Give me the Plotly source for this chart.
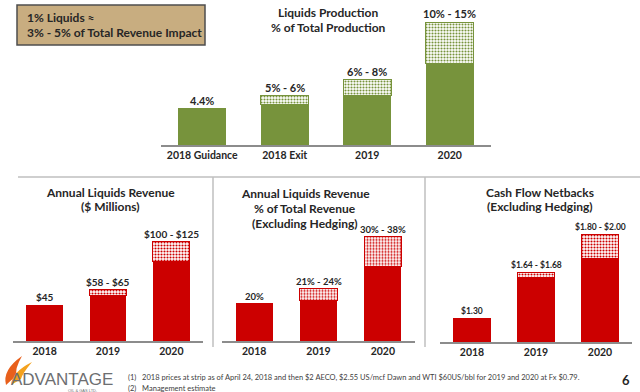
import plotly.graph_objects as go

# ---------------- data ----------------
prod_cats = ["2018 Guidance", "2018 Exit", "2019", "2020"]
prod_low = [4.4, 5, 6, 10]
prod_high = [4.4, 6, 8, 15]
prod_labels = ["4.4%", "5% - 6%", "6% - 8%", "10% - 15%"]

years = ["2018", "2019", "2020"]
rev_low = [45, 58, 100]
rev_high = [45, 65, 125]
rev_labels = ["$45", "$58 - $65", "$100 - $125"]

pct_low = [20, 21, 30]
pct_high = [20, 24, 38]
pct_labels = ["20%", "21% - 24%", "30% - 38%"]

net_low = [1.30, 1.64, 1.80]
net_high = [1.30, 1.68, 2.00]
net_labels = ["$1.30", "$1.64 - $1.68", "$1.80 - $2.00"]

GREEN = "#77933C"
RED = "#CC0000"
TXT = "#262626"
FONT = "Lato"

W, H = 640, 392
def px(x): return x / W
def py(y): return 1 - y / H

fig = go.Figure()

panels = [
    (prod_cats, prod_low, prod_high, prod_labels, GREEN, "x", "y", [161, 491], [145, 14], [0, 16], 11),
    (years, rev_low, rev_high, rev_labels, RED, "x2", "y2", [13, 203], [341, 238], [0, 130], 10),
    (years, pct_low, pct_high, pct_labels, RED, "x3", "y3", [222, 415], [341, 229.4], [10, 40], 9.5),
    (years, net_low, net_high, net_labels, RED, "x4", "y4", [440, 632], [342, 228], [1.1, 2.05], 8.5),
]

annotations = []
for i, (cats, low, high, labels, col, xa, ya, xd, yd, yr, lsz) in enumerate(panels):
    fig.add_trace(go.Bar(x=cats, y=low, xaxis=xa, yaxis=ya, marker=dict(color=col, line=dict(color=col, width=0)),
                         hoverinfo="skip", showlegend=False))
    fig.add_trace(go.Bar(x=cats, y=[h - l for h, l in zip(high, low)], xaxis=xa, yaxis=ya,
                         marker=dict(color="white", line=dict(color=col, width=1),
                                     pattern=dict(shape=".", fgcolor=col, bgcolor="white", size=3,
                                                  solidity=0.4, fillmode="replace")),
                         hoverinfo="skip", showlegend=False))
    sfx = "" if i == 0 else str(i + 1)
    fig.layout["xaxis" + sfx] = dict(domain=[px(xd[0]), px(xd[1])], anchor=ya, type="category",
                                     showline=True, linecolor="#8C8C8C", linewidth=1.5, showgrid=False,
                                     ticks="", tickfont=dict(family=FONT, size=10.5, color=TXT, weight="bold"),
                                     range=[-0.5, len(cats) - 0.5], fixedrange=True)
    fig.layout["yaxis" + sfx] = dict(domain=[py(yd[0]), py(yd[1])], anchor=xa, visible=False,
                                     range=yr, showgrid=False, zeroline=False, fixedrange=True)
    for k, (h, lab) in enumerate(zip(high, labels)):
        annotations.append(dict(x=k, y=h, xref=xa, yref=ya, text="<b>" + lab + "</b>", showarrow=False,
                                yanchor="bottom", yshift=0,
                                font=dict(family=FONT, size=lsz, color=TXT)))

def title(text, x, y, size=12):
    annotations.append(dict(x=px(x), y=py(y), xref="paper", yref="paper", text="<b>" + text + "</b>",
                            showarrow=False, xanchor="center", yanchor="middle",
                            font=dict(family=FONT, size=size, color=TXT)))

title("Liquids Production", 328, 12)
title("% of Total Production", 328, 28)
title("Annual Liquids Revenue", 110, 192)
title("($ Millions)", 110, 207)
title("Annual Liquids Revenue", 305, 193)
title("% of Total Revenue", 305, 208)
title("(Excluding Hedging)", 305, 223)
title("Cash Flow Netbacks", 540, 192)
title("(Excluding Hedging)", 540, 207)

for t, y in [("1% Liquids ≈", 17), ("3% - 5% of Total Revenue Impact", 33)]:
    annotations.append(dict(x=px(25), y=py(y), xref="paper", yref="paper", text="<b>" + t + "</b>",
                            showarrow=False, xanchor="left", yanchor="middle",
                            font=dict(family=FONT, size=12, color=TXT)))

annotations.append(dict(x=px(126), y=py(377), xref="paper", yref="paper",
                        text="(1)   2018 prices at strip as of April 24, 2018 and then $2 AECO, $2.55 US/mcf Dawn and WTI $60US/bbl for 2019 and 2020 at Fx $0.79.",
                        showarrow=False, xanchor="left", yanchor="middle",
                        font=dict(family=FONT, size=7.5, color="#404040")))
annotations.append(dict(x=px(126), y=py(388), xref="paper", yref="paper",
                        text="(2)   Management estimate", showarrow=False, xanchor="left", yanchor="middle",
                        font=dict(family=FONT, size=7.5, color="#404040")))
annotations.append(dict(x=px(626), y=py(380), xref="paper", yref="paper", text="<b>6</b>",
                        showarrow=False, xanchor="center", yanchor="middle",
                        font=dict(family=FONT, size=13, color=TXT)))
annotations.append(dict(x=px(9), y=py(379), xref="paper", yref="paper", text="ADVANTAGE",
                        showarrow=False, xanchor="left", yanchor="middle",
                        font=dict(family="Liberation Sans", size=17, color="#6D6E71")))
annotations.append(dict(x=px(82), y=py(390), xref="paper", yref="paper", text="OIL & GAS LTD.",
                        showarrow=False, xanchor="center", yanchor="middle",
                        font=dict(family="Liberation Sans", size=4, color="#6D6E71")))

shapes = [
    dict(type="rect", xref="paper", yref="paper", x0=px(17), x1=px(205), y0=py(45), y1=py(5),
         fillcolor="#C8AD80", line=dict(color="#4D4D4D", width=1.5), layer="below"),
    dict(type="line", xref="paper", yref="paper", x0=px(18), x1=px(640), y0=py(177), y1=py(177),
         line=dict(color="#BFBFBF", width=1.5)),
    dict(type="line", xref="paper", yref="paper", x0=px(213), x1=px(213), y0=py(177), y1=py(347),
         line=dict(color="#BFBFBF", width=1.5)),
    dict(type="line", xref="paper", yref="paper", x0=px(425), x1=px(425), y0=py(177), y1=py(347),
         line=dict(color="#BFBFBF", width=1.5)),
    dict(type="path", xref="paper", yref="paper",
         path=f"M {px(6)},{py(385)} Q {px(2)},{py(370)} {px(22)},{py(356)} Q {px(14)},{py(370)} {px(17)},{py(375)} Z",
         fillcolor="#E8601C", line=dict(width=0)),
    dict(type="path", xref="paper", yref="paper",
         path=f"M {px(11)},{py(385)} Q {px(12)},{py(372)} {px(32)},{py(362)} Q {px(22)},{py(374)} {px(21)},{py(379)} Z",
         fillcolor="#F4A21E", line=dict(width=0)),
]

fig.update_layout(width=W, height=H, margin=dict(l=0, r=0, t=0, b=0), barmode="stack", bargap=0.42,
                  plot_bgcolor="white", paper_bgcolor="white", annotations=annotations, shapes=shapes,
                  font=dict(family=FONT, color=TXT))

fig.write_html("out.html", config={"displayModeBar": False},
               post_script="document.body.style.margin='0';document.body.style.overflow='hidden';")
